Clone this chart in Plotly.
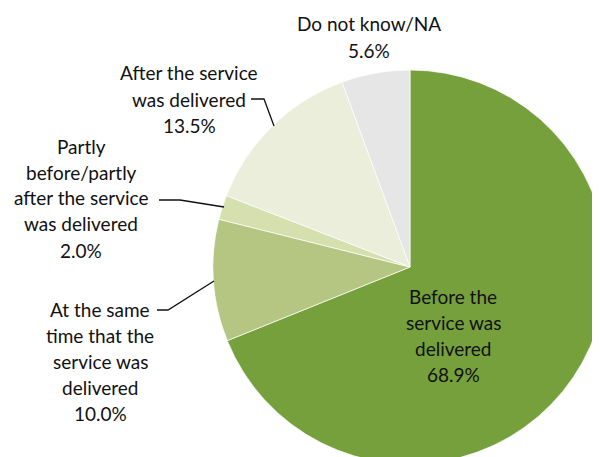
import plotly.graph_objects as go

categories = ["Before the service was delivered",
              "At the same time that the service was delivered",
              "Partly before/partly after the service was delivered",
              "After the service was delivered",
              "Do not know/NA"]
values = [68.9, 10.0, 2.0, 13.5, 5.6]
colors = ["#76A03C", "#B5C682", "#D6DFAE", "#EAEEDA", "#E7E6E6"]

label_lines = [
    ["Before the", "service was", "delivered"],
    ["At the same", "time that the", "service was", "delivered"],
    ["Partly", "before/partly", "after the service", "was delivered"],
    ["After the service", "was delivered"],
    ["Do not know/NA"],
]

W, H = 620, 480
OFF = 8  # page body margin offset
CX, CY, R = 410 - OFF, 267 - OFF, 197

def px(x):
    return (x - OFF) / W

def py(y):
    return 1 - (y - OFF) / H

fig = go.Figure()
fig.add_trace(go.Pie(
    labels=categories, values=values, sort=False, direction="clockwise",
    rotation=0, marker=dict(colors=colors, line=dict(color="white", width=0.7)),
    textinfo="none", hoverinfo="label+percent", showlegend=False,
    domain=dict(x=[(CX - R) / W, (CX + R) / W], y=[1 - (CY + R) / H, 1 - (CY - R) / H]),
))

# label block: center x, first-line y (page px), line spacing
label_pos = [(453, 296), (100, 309), (81, 146), (189, 73), (369, 24)]
LS = 26
FONT = dict(family="Lato, Calibri, sans-serif", size=19, color="#111111")

for lines, val, (lx, ly) in zip(label_lines, values, label_pos):
    all_lines = lines + [f"{val:.1f}%"]
    for i, t in enumerate(all_lines):
        fig.add_annotation(x=px(lx), y=py(ly + i * LS), xref="paper", yref="paper",
                           text=t, showarrow=False, font=FONT,
                           xanchor="center", yanchor="middle")

# leader lines (page pixel polylines)
leaders = [
    [(157, 310), (168, 310), (214, 281)],
    [(159, 200), (180, 200), (224, 207)],
    [(251, 99), (264, 99), (274, 126)],
]
for pts in leaders:
    path = "M " + " L ".join(f"{px(x)},{py(y)}" for x, y in pts)
    fig.add_shape(type="path", path=path, xref="paper", yref="paper",
                  line=dict(color="#111111", width=1.3))

fig.update_layout(width=W, height=H, margin=dict(l=0, r=0, t=0, b=0),
                  paper_bgcolor="white", plot_bgcolor="white")
fig.write_html("out.html")
